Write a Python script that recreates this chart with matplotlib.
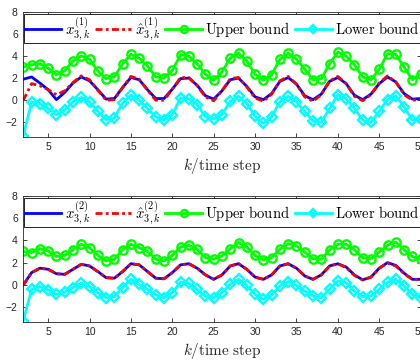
import matplotlib
matplotlib.use("Agg")
import matplotlib.pyplot as plt
import numpy as np

plt.rcParams['mathtext.fontset'] = 'cm'

# time steps
k = np.arange(2, 51)

# ---- subplot 1 ----
x1 = [1.9, 2.1, 1.55, 0.95, 0.05, 0.7, 1.55, 2.1, 1.75, 0.95, 0.1, 0.15, 1.15, 2.05, 1.85, 0.95,
      0.15, 0.15, 1.0, 1.95, 2.0, 1.35, 0.4, 0.1, 0.85, 1.85, 2.0, 1.25, 0.3, 0.05, 0.6, 1.7,
      2.05, 1.45, 0.4, 0.05, 0.55, 1.7, 2.05, 1.5, 0.45, 0.05, 0.55, 1.5, 2.1, 1.65, 0.6, 0.1, 0.15]
xhat1 = [0.0, 1.5, 1.3, 0.95, 0.5, 0.85, 1.6, 2.2, 1.85, 0.9, 0.0, 0.05, 1.15, 2.15, 1.9, 0.9,
         0.0, 0.0, 1.0, 2.05, 2.05, 1.3, 0.3, -0.05, 0.85, 1.95, 2.05, 1.2, 0.2, -0.1, 0.55, 1.75,
         2.15, 1.45, 0.3, -0.1, 0.5, 1.75, 2.15, 1.5, 0.35, -0.05, 0.5, 1.55, 2.2, 1.65, 0.5, 0.0, 0.05]
upper1 = [3.0, 3.2, 3.3, 2.9, 2.3, 2.65, 3.55, 4.0, 3.7, 2.65, 1.95, 2.1, 3.3, 4.15, 3.8, 3.1,
          2.1, 2.0, 2.7, 4.1, 4.0, 3.3, 2.35, 1.8, 2.55, 3.8, 4.25, 3.55, 2.35, 1.8, 2.3, 3.7,
          4.25, 3.7, 2.8, 1.85, 1.95, 3.3, 4.35, 4.0, 3.2, 2.1, 1.85, 2.8, 4.2, 4.15, 3.0, 1.85, 2.4]
lower1 = [-3.2, -0.15, -0.3, -0.75, -1.3, -0.9, -0.15, 0.25, -0.15, -1.0, -1.75, -1.6, -0.25, 0.45, 0.0, -0.75,
          -1.5, -1.8, -1.3, 0.2, 0.15, -0.4, -1.5, -1.7, -1.3, -0.1, 0.35, -0.3, -1.45, -2.1, -1.5, -0.15,
          0.35, -0.15, -1.0, -1.9, -2.0, -0.75, 0.5, 0.15, -0.75, -1.8, -2.0, -1.0, 0.05, 0.4, -0.6, -1.8, -1.7]

# ---- subplot 2 ----
x2 = [0.0, 1.1, 1.5, 1.4, 1.0, 0.95, 1.4, 1.85, 1.7, 1.2, 0.65, 0.6, 1.2, 1.9, 1.8, 1.2,
      0.6, 0.55, 1.1, 1.8, 1.9, 1.5, 0.9, 0.5, 0.9, 1.7, 1.9, 1.4, 0.7, 0.5, 0.9, 1.7,
      1.9, 1.5, 0.8, 0.5, 0.9, 1.7, 1.9, 1.6, 0.9, 0.45, 0.7, 1.5, 2.0, 1.75, 1.05, 0.5, 0.5]
xhat2 = [0.0, 1.1, 1.5, 1.4, 1.0, 0.95, 1.4, 1.85, 1.7, 1.2, 0.65, 0.6, 1.2, 1.9, 1.8, 1.2,
         0.6, 0.55, 1.1, 1.8, 1.9, 1.5, 0.9, 0.5, 0.9, 1.7, 1.9, 1.4, 0.7, 0.5, 0.9, 1.7,
         1.9, 1.5, 0.8, 0.5, 0.9, 1.7, 1.9, 1.55, 0.85, 0.45, 0.7, 1.5, 1.95, 1.7, 1.0, 0.5, 0.5]
upper2 = [3.0, 2.9, 3.25, 3.05, 2.55, 2.65, 3.15, 3.65, 3.35, 2.65, 2.15, 2.3, 3.15, 3.65, 3.35, 3.0,
          2.3, 2.15, 2.65, 3.4, 3.55, 3.2, 2.45, 2.3, 2.6, 3.25, 3.8, 3.4, 2.65, 2.25, 2.45, 3.2,
          3.7, 3.5, 2.95, 2.35, 2.3, 3.15, 3.65, 3.65, 3.15, 2.45, 2.35, 2.95, 3.55, 3.85, 3.15, 2.55, 2.3]
lower2 = [-3.2, -0.4, -0.15, -0.45, -0.85, -0.65, -0.25, 0.15, -0.15, -0.7, -1.15, -1.05, -0.25, 0.5, 0.05, -0.4,
          -0.9, -1.15, -0.7, 0.25, 0.15, -0.4, -1.0, -1.15, -0.7, 0.05, 0.5, -0.05, -0.85, -1.3, -0.9, -0.1,
          0.3, -0.05, -0.55, -1.0, -1.15, -0.4, 0.35, 0.2, -0.55, -1.05, -1.0, -0.4, 0.25, 0.5, -0.1, -0.85, -1.15]

xticks = [5, 10, 15, 20, 25, 30, 35, 40, 45, 50]
yticks = [-2, 0, 2, 4, 6, 8]

fig = plt.figure(figsize=(4.2, 3.63), dpi=100)
ax1 = fig.add_axes([0.0555, 0.6234, 0.946, 0.3444])
ax2 = fig.add_axes([0.0555, 0.1138, 0.946, 0.347])

axcol = '#262626'


def draw_panel(ax, x, xhat, up, low, idx):
    ax.plot(k, x, '-', color='blue', lw=2, label=r'$x_{3,k}^{(%d)}$' % idx)
    ax.plot(k, xhat, '-.', color='red', lw=2, dashes=(2.5, 1.2, 1, 1.2),
            label=r'$\hat{x}_{3,k}^{(%d)}$' % idx)
    ax.plot(k, up, '-o', color='#00ff00', lw=2, ms=6, mfc='none', mew=1.7,
            label=r'$\mathrm{Upper\ bound}$')
    ax.plot(k, low, '-D', color='cyan', lw=2, ms=5.2, mfc='none', mew=1.7,
            label=r'$\mathrm{Lower\ bound}$')
    ax.set_xlim(2, 50)
    ax.set_ylim(-3.3, 8)
    ax.set_xticks(xticks)
    ax.set_yticks(yticks)
    ax.tick_params(direction='in', top=True, right=True, length=3, width=0.6,
                   labelsize=7.5, colors=axcol, pad=4)
    for lab in ax.get_xticklabels() + ax.get_yticklabels():
        lab.set_family('Liberation Sans')
    for s in ax.spines.values():
        s.set_color(axcol)
        s.set_linewidth(0.6)
    ax.set_xlabel(r'$k/\mathrm{time\ step}$', fontsize=11, color=axcol, labelpad=3)
    leg = ax.legend(loc='upper left', bbox_to_anchor=(0.002, 0.98, 0.998, 0), mode='expand',
                    ncol=4, fontsize=10.5, handlelength=2.5, handletextpad=0.25,
                    columnspacing=0.3, borderpad=0.05, borderaxespad=0, fancybox=False,
                    framealpha=1, edgecolor='black', markerscale=0.85)
    leg.get_frame().set_linewidth(0.6)


draw_panel(ax1, x1, xhat1, upper1, lower1, 1)
draw_panel(ax2, x2, xhat2, upper2, lower2, 2)

fig.savefig('out.png', dpi=100)
